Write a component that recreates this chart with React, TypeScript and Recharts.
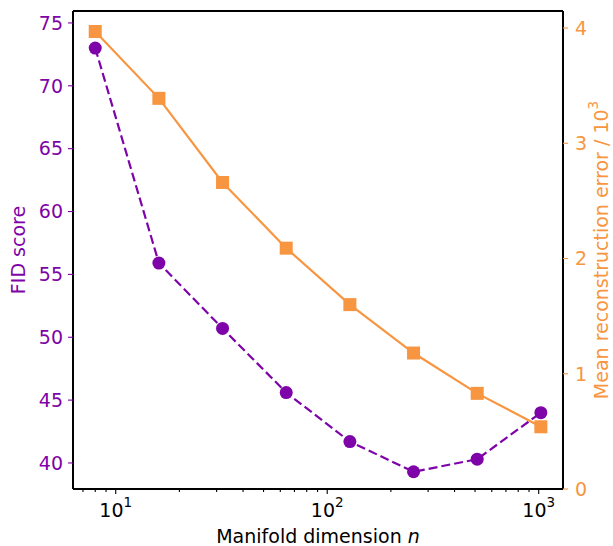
import React from 'react';
import { ComposedChart, Line, XAxis, YAxis, Label, ReferenceLine } from 'recharts';

const dims = [8, 16, 32, 64, 128, 256, 512, 1024];
const fidScores = [73.0, 55.9, 50.7, 45.6, 41.7, 39.3, 40.3, 44.0];
const reconErrors = [3.97, 3.39, 2.66, 2.09, 1.6, 1.18, 0.83, 0.54];

const majorTicks = [10, 100, 1000];
const minorTicks = [7, 8, 9, 20, 30, 40, 50, 60, 70, 80, 90, 200, 300, 400, 500, 600, 700, 800, 900];
const fidTicks = [40, 45, 50, 55, 60, 65, 70, 75];
const errTicks = [0, 1, 2, 3, 4];

const PURPLE = '#7e03a8';
const ORANGE = '#f89540';
const FONT = 'DejaVu Sans, sans-serif';
const FS = 19;

const data = dims.map((n, i) => ({ n, fid: fidScores[i], err: reconErrors[i] }));

const XTick = (props: any) => {
  const { x, y, payload } = props;
  const v = payload.value;
  const isMajor = majorTicks.includes(v);
  if (!isMajor) {
    return <line x1={x} x2={x} y1={y} y2={y + 3} stroke="#000" strokeWidth={1.1} />;
  }
  const exp = Math.round(Math.log10(v));
  return (
    <g>
      <line x1={x} x2={x} y1={y} y2={y + 5} stroke="#000" strokeWidth={1.1} />
      <text x={x} y={y + 28} textAnchor="middle" fontFamily={FONT} fontSize={FS} fill="#000">
        10
        <tspan fontSize={13.5} dy={-10}>{exp}</tspan>
      </text>
    </g>
  );
};

const CircleDot = (props: any) => {
  const { cx, cy, index } = props;
  return <circle key={`c${index}`} cx={cx} cy={cy} r={6.5} fill={PURPLE} />;
};

const SquareDot = (props: any) => {
  const { cx, cy, index } = props;
  return <rect key={`s${index}`} x={cx - 6.5} y={cy - 6.5} width={13} height={13} fill={ORANGE} />;
};

export default function App() {
  return (
    <div style={{ position: 'absolute', left: 0, top: 0, background: '#fff' }}>
      <ComposedChart width={613} height={546} data={data} margin={{ top: 11, right: 0, bottom: 0, left: 0 }}>
        <XAxis
          dataKey="n"
          type="number"
          scale="log"
          domain={[6.28, 1303]}
          allowDataOverflow
          ticks={[...minorTicks, ...majorTicks]}
          interval={0}
          tick={<XTick />}
          tickLine={false}
          tickSize={0}
          tickMargin={0}
          height={57}
          axisLine={{ stroke: '#000', strokeWidth: 2 }}
        >
          <Label
            content={(p: any) => {
              const vb = p.viewBox;
              return (
                <text x={vb.x + vb.width / 2} y={vb.y + 54} textAnchor="middle" fontFamily={FONT} fontSize={FS} fill="#000">
                  Manifold dimension <tspan fontStyle="italic">n</tspan>
                </text>
              );
            }}
          />
        </XAxis>
        <YAxis
          yAxisId="left"
          type="number"
          domain={[37.93, 75.95]}
          allowDataOverflow
          ticks={fidTicks}
          interval={0}
          width={73}
          tickSize={5}
          tickMargin={5}
          tick={{ fill: PURPLE, fontSize: FS, fontFamily: FONT }}
          tickLine={{ stroke: PURPLE, strokeWidth: 1.1 }}
          axisLine={{ stroke: '#000', strokeWidth: 2 }}
        >
          <Label
            content={(p: any) => {
              const vb = p.viewBox;
              const cy = vb.y + vb.height / 2;
              return (
                <text x={18} y={cy} transform={`rotate(-90 18 ${cy})`} textAnchor="middle" dominantBaseline="central" fontFamily={FONT} fontSize={FS} fill={PURPLE}>
                  FID score
                </text>
              );
            }}
          />
        </YAxis>
        <YAxis
          yAxisId="right"
          orientation="right"
          type="number"
          domain={[0, 4.148]}
          allowDataOverflow
          ticks={errTicks}
          interval={0}
          width={50}
          tickSize={5}
          tickMargin={7}
          tick={{ fill: ORANGE, fontSize: FS, fontFamily: FONT }}
          tickLine={{ stroke: ORANGE, strokeWidth: 1.1 }}
          axisLine={{ stroke: '#000', strokeWidth: 2 }}
        >
          <Label
            content={(p: any) => {
              const vb = p.viewBox;
              const cy = vb.y + vb.height / 2;
              return (
                <text x={601} y={cy} transform={`rotate(-90 601 ${cy})`} textAnchor="middle" dominantBaseline="central" fontFamily={FONT} fontSize={FS} fill={ORANGE}>
                  Mean reconstruction error / 10
                  <tspan fontSize={13.5} dy={-8}>3</tspan>
                </text>
              );
            }}
          />
        </YAxis>
        <ReferenceLine yAxisId="left" y={75.95} stroke="#000" strokeWidth={2} ifOverflow="visible" />
        <Line
          yAxisId="left"
          dataKey="fid"
          stroke={PURPLE}
          strokeWidth={2.2}
          strokeDasharray="9 4"
          dot={<CircleDot />}
          activeDot={false}
          isAnimationActive={false}
        />
        <Line
          yAxisId="right"
          dataKey="err"
          stroke={ORANGE}
          strokeWidth={2.2}
          dot={<SquareDot />}
          activeDot={false}
          isAnimationActive={false}
        />
      </ComposedChart>
    </div>
  );
}
